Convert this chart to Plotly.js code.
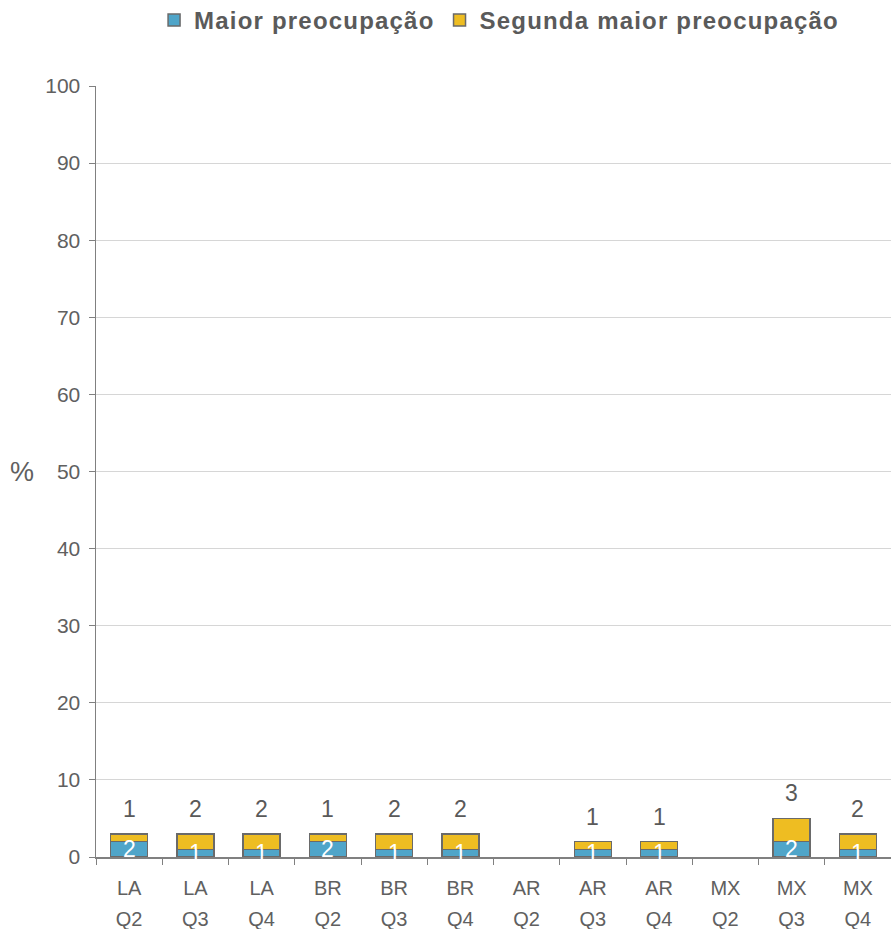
<!DOCTYPE html>
<html>
<head>
<meta charset="utf-8">
<script src="https://cdn.plot.ly/plotly-3.0.1.min.js"></script>
<style>
html,body{margin:0;padding:0;background:#fff;}
text.legendtext{letter-spacing:1.2px;}
</style>
</head>
<body>
<div id="chart" style="width:891px;height:929px;"></div>
<script>
const countries = ["LA","LA","LA","BR","BR","BR","AR","AR","AR","MX","MX","MX"];
const quarters  = ["Q2","Q3","Q4","Q2","Q3","Q4","Q2","Q3","Q4","Q2","Q3","Q4"];
const maior     = [2,1,1,2,1,1,0,1,1,0,2,1];
const segunda   = [1,2,2,1,2,2,0,1,1,0,3,2];
const seriesNames = ["Maior preocupação","Segunda maior preocupação"];

const cats = countries.map((c,i)=>c+" "+quarters[i]);
const idx = cats.map((_,i)=>i);
const FONT = "Arial, 'Liberation Sans', sans-serif";
const GREY = "#606060";
const nz = v => v.map(d => d > 0 ? d : null);

const traces = [
  {type:"bar", name:seriesNames[0], x:cats, y:nz(maior), width:0.56,
   marker:{color:"#4fa5c9", line:{color:"#6a6a6a", width:1.5}}, hoverinfo:"skip"},
  {type:"bar", name:seriesNames[1], x:cats, y:nz(segunda), width:0.56,
   marker:{color:"#eebd22", line:{color:"#6a6a6a", width:1.5}}, hoverinfo:"skip"},
  {type:"scatter", x:idx, y:idx.map(()=>null), xaxis:"x2", showlegend:false, hoverinfo:"skip"}
];

const annotations = [];
cats.forEach((c,i)=>{
  if (maior[i] > 0) annotations.push({x:c, y:maior[i]/2, xref:"x", yref:"y", text:String(maior[i]),
    showarrow:false, yanchor:"middle", font:{family:FONT, size:23, color:"#ffffff"}});
  if (segunda[i] > 0) annotations.push({x:c, y:maior[i]+segunda[i], xref:"x", yref:"y", text:String(segunda[i]),
    showarrow:false, yanchor:"bottom", yshift:10, font:{family:FONT, size:23, color:"#595959"}});
});
annotations.push({xref:"paper", yref:"paper", x:-0.093, y:0.5, text:"%", showarrow:false,
  xanchor:"center", yanchor:"middle", font:{family:FONT, size:27, color:GREY}});

const layout = {
  width:891, height:929,
  margin:{l:96, r:0, t:86, b:72},
  paper_bgcolor:"#ffffff", plot_bgcolor:"#ffffff",
  barmode:"stack",
  font:{family:FONT, color:GREY},
  showlegend:true,
  legend:{orientation:"h", x:0.507, xanchor:"center", yref:"container", y:0.978, yanchor:"middle",
    font:{family:FONT, size:24, color:"#5a5a5a", weight:"bold"}, traceorder:"normal", itemwidth:30},
  xaxis:{type:"category", categoryarray:cats, tickvals:cats, ticktext:countries,
    range:[-0.5,11.5], tickson:"boundaries", ticks:"outside", ticklen:6, tickcolor:"#808080",
    showline:true, linecolor:"#808080", linewidth:1.5, showgrid:false,
    tickfont:{family:FONT, size:20, color:GREY}, ticklabelstandoff:12, fixedrange:true},
  xaxis2:{type:"linear", overlaying:"x", anchor:"y", side:"bottom", range:[-0.5,11.5],
    tickmode:"array", tickvals:idx, ticktext:quarters, ticks:"", showline:false, showgrid:false, zeroline:false,
    tickfont:{family:FONT, size:20, color:GREY}, ticklabelstandoff:48, fixedrange:true},
  yaxis:{range:[0,100], dtick:10, ticks:"outside", ticklen:6, tickcolor:"#808080",
    showline:true, linecolor:"#808080", linewidth:1.5, showgrid:true, gridcolor:"#d6d6d6", gridwidth:1,
    zeroline:false, tickfont:{family:FONT, size:21, color:GREY}, ticklabelstandoff:4, fixedrange:true},
  annotations:annotations
};

Plotly.newPlot("chart", traces, layout, {displayModeBar:false, staticPlot:true});
</script>
</body>
</html>
